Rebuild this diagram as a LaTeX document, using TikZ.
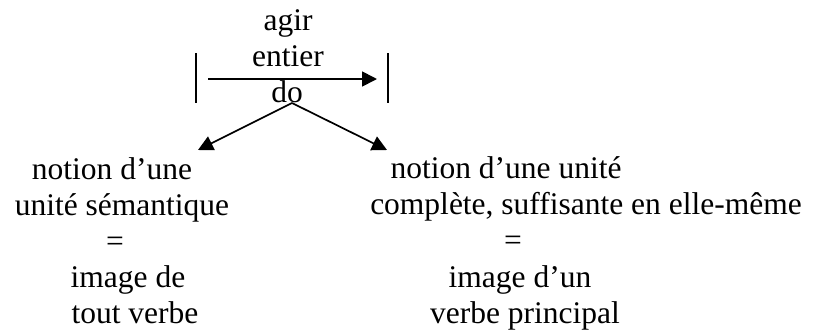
\documentclass[tikz,border=0pt]{standalone}
\usepackage{fontspec}
\setmainfont{Liberation Serif}
\usetikzlibrary{arrows.meta}
\tikzset{
  txt/.style={inner sep=0pt, anchor=base, font=\fontsize{31.5}{36}\selectfont},
  conn/.style={line width=1.7pt, -{Triangle[length=15pt,width=15pt]}},
  bar/.style={line width=1.7pt}
}
\begin{document}
\begin{tikzpicture}[x=1pt,y=-1pt]
\useasboundingbox (0,0) rectangle (817,333);
% top
\node[txt] (agir) at (288,30) {agir};
\node[txt] (entier) at (288,66) {entier};
\node[txt] (do) at (287,102) {do};
\coordinate (lb1) at (196,53); \coordinate (lb2) at (196,103);
\coordinate (rb1) at (388,53); \coordinate (rb2) at (388,103);
\draw[bar] (lb1) -- (lb2);
\draw[bar] (rb1) -- (rb2);
\coordinate (as) at (208,79); \coordinate (ae) at (377,79);
\draw[conn] (as) -- (ae);
\coordinate (apex) at (292,103);
\coordinate (ltip) at (198,150);
\coordinate (rtip) at (387,150);
\draw[conn] (apex) -- (ltip);
\draw[conn] (apex) -- (rtip);
% left block
\node[txt] (l1) at (112,179) {notion d’une};
\node[txt] (l2) at (122,215) {unité sémantique};
\node[txt] (l3) at (115,251) {=};
\node[txt] (l4) at (128,287) {image de};
\node[txt] (l5) at (135,323) {tout verbe};
% right block
\node[txt] (r1) at (506,178) {notion d’une unité};
\node[txt] (r2) at (586,214) {complète, suffisante en elle-même};
\node[txt] (r3) at (513,250) {=};
\node[txt] (r4) at (520,287) {image d’un};
\node[txt] (r5) at (525,323) {verbe principal};
\end{tikzpicture}
\end{document}
